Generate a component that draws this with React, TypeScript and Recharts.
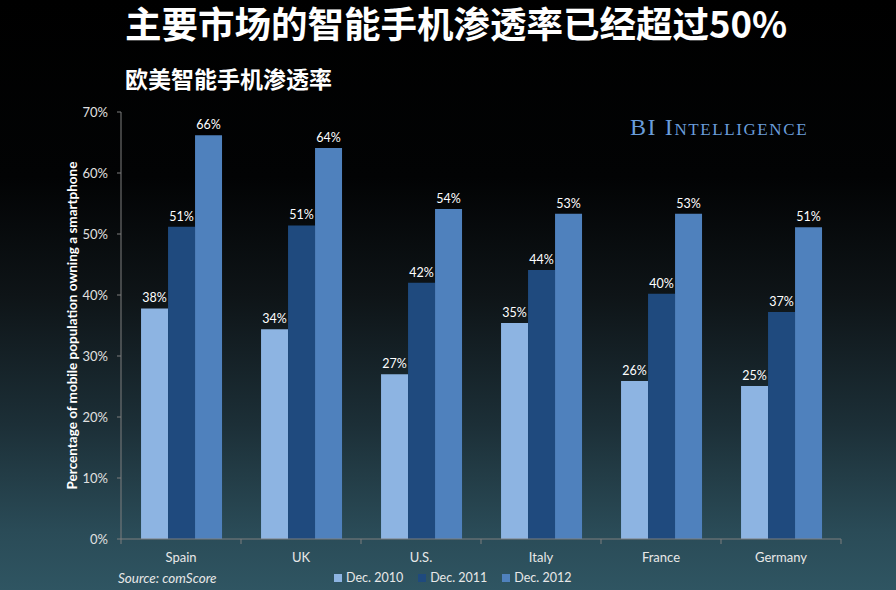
import { BarChart, Bar, XAxis, YAxis, LabelList } from "recharts"

const countries = ["Spain", "UK", "U.S.", "Italy", "France", "Germany"]
const dec2010 = [37.8, 34.4, 27.0, 35.4, 25.9, 25.1]
const dec2011 = [51.2, 51.4, 42.0, 44.1, 40.2, 37.2]
const dec2012 = [66.2, 64.1, 54.1, 53.3, 53.3, 51.1]
const yTicks = [0, 10, 20, 30, 40, 50, 60, 70]

const seriesNames = ["Dec. 2010", "Dec. 2011", "Dec. 2012"]
const seriesColors = ["#8db4e2", "#1f4a7e", "#4f81bd"]

const data = countries.map((name, i) => ({
  name,
  d2010: dec2010[i],
  d2011: dec2011[i],
  d2012: dec2012[i],
}))

const W = 896
const H = 590
const margin = { top: 112, right: 55, left: 60, bottom: 21 }
const yAxisWidth = 61
const TICK_SIZE = 5
const TICK_MARGIN = 9
const bandHalf = (W - margin.left - yAxisWidth - margin.right) / countries.length / 2

const font = "Lato, 'Open Sans', sans-serif"
const cjk = "'Noto Sans CJK SC', sans-serif"

function CategoryTick(props: any) {
  const { x, y, payload, index } = props
  const axisY = y - TICK_SIZE - TICK_MARGIN
  return (
    <g>
      <line x1={x - bandHalf} x2={x - bandHalf} y1={axisY} y2={axisY + TICK_SIZE} stroke="#7f7f7f" />
      {index === countries.length - 1 && (
        <line x1={x + bandHalf} x2={x + bandHalf} y1={axisY} y2={axisY + TICK_SIZE} stroke="#7f7f7f" />
      )}
      <text x={x} y={y} dy="0.68em" textAnchor="middle" fill="#e8e8e8" fontSize={13} fontFamily={font}>
        {payload.value}
      </text>
    </g>
  )
}

const pct = (v: any) => `${Math.round(Number(v))}%`

export default function App() {
  return (
    <div
      style={{
        position: "absolute",
        left: 0,
        top: 0,
        width: W,
        height: H,
        overflow: "hidden",
        background:
          "linear-gradient(to bottom, #000000 0%, #020304 30%, #0e1417 50%, #1c2f37 72%, #2a4b57 90%, #2f5562 100%)",
      }}
    >
      <div
        style={{
          position: "absolute",
          left: 125,
          top: 1,
          fontFamily: cjk,
          fontWeight: 700,
          fontSize: 36.5,
          lineHeight: 1.2,
          color: "#ffffff",
          whiteSpace: "nowrap",
        }}
      >
        主要市场的智能手机渗透率已经超过50%
      </div>
      <div
        style={{
          position: "absolute",
          left: 125,
          top: 65,
          fontFamily: cjk,
          fontWeight: 700,
          fontSize: 23,
          lineHeight: 1.2,
          color: "#ffffff",
          whiteSpace: "nowrap",
        }}
      >
        欧美智能手机渗透率
      </div>
      <div
        style={{
          position: "absolute",
          left: 630,
          top: 115,
          fontFamily: "'Liberation Serif', serif",
          fontVariant: "small-caps",
          fontSize: 24,
          lineHeight: 1,
          letterSpacing: 1.6,
          color: "#6a9ddb",
          whiteSpace: "nowrap",
        }}
      >
        BI Intelligence
      </div>

      <BarChart
        width={W}
        height={H}
        data={data}
        margin={margin}
        barCategoryGap="16.7%"
        barGap={0}
        style={{ position: "absolute", left: 0, top: 0 }}
      >
        <XAxis
          dataKey="name"
          height={30}
          stroke="#7f7f7f"
          tickLine={false}
          tickSize={TICK_SIZE}
          tickMargin={TICK_MARGIN}
          tick={<CategoryTick />}
          interval={0}
        />
        <YAxis
          width={yAxisWidth}
          domain={[0, 70]}
          ticks={yTicks}
          tickFormatter={(v) => `${v}%`}
          stroke="#7f7f7f"
          tickSize={4}
          tickMargin={9}
          tick={{ fill: "#e0e0e0", fontSize: 13, fontFamily: font }}
          label={{
            value: "Percentage of mobile population owning a smartphone",
            angle: -90,
            position: "center",
            dx: -18,
            fill: "#ffffff",
            fontSize: 13.5,
            fontWeight: 700,
            fontFamily: font,
          }}
        />
        <Bar dataKey="d2010" name={seriesNames[0]} fill={seriesColors[0]} isAnimationActive={false}>
          <LabelList dataKey="d2010" position="top" offset={6} formatter={pct} fill="#ffffff" fontSize={12.5} fontFamily={font} />
        </Bar>
        <Bar dataKey="d2011" name={seriesNames[1]} fill={seriesColors[1]} isAnimationActive={false}>
          <LabelList dataKey="d2011" position="top" offset={6} formatter={pct} fill="#ffffff" fontSize={12.5} fontFamily={font} />
        </Bar>
        <Bar dataKey="d2012" name={seriesNames[2]} fill={seriesColors[2]} isAnimationActive={false}>
          <LabelList dataKey="d2012" position="top" offset={6} formatter={pct} fill="#ffffff" fontSize={12.5} fontFamily={font} />
        </Bar>
      </BarChart>

      <div
        style={{
          position: "absolute",
          left: 118,
          top: 569,
          fontFamily: font,
          fontStyle: "italic",
          fontSize: 13.5,
          lineHeight: "18px",
          color: "#e8e8e8",
        }}
      >
        Source: comScore
      </div>
      <div
        style={{
          position: "absolute",
          left: 334,
          top: 569,
          display: "flex",
          alignItems: "center",
          fontFamily: font,
          fontSize: 12.5,
          lineHeight: "18px",
          color: "#e8e8e8",
        }}
      >
        {seriesNames.map((n, i) => (
          <div key={n} style={{ display: "flex", alignItems: "center", marginRight: 15 }}>
            <span style={{ width: 8, height: 8, background: seriesColors[i], marginRight: 4, display: "inline-block" }} />
            {n}
          </div>
        ))}
      </div>
    </div>
  )
}
